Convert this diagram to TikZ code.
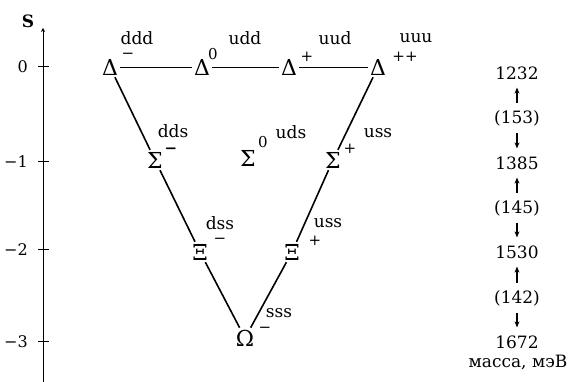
\documentclass[tikz,border=0pt]{standalone}
\usepackage{fontspec}
\setmainfont{DejaVu Serif}
\usetikzlibrary{positioning,arrows.meta}
\tikzset{
  hadron/.style ={inner sep=2pt, font=\fontsize{22}{22}\selectfont},
  charge/.style ={inner sep=0pt, font=\fontsize{15}{15}\selectfont},
  quark/.style  ={inner sep=0pt, font=\fontsize{17}{17}\selectfont},
  axlabel/.style={inner sep=0pt, font=\fontsize{16}{16}\selectfont},
  mass/.style   ={inner sep=2pt, font=\fontsize{17}{17}\selectfont},
  lineh/.style  ={line width=0.8pt},
  lined/.style  ={line width=1.6pt},
  axis/.style   ={line width=1pt},
  ar/.style     ={-{Stealth[length=6pt,width=5pt]}, line width=1.4pt,
                  shorten >=6pt, shorten <=5pt}
}

\begin{document}
\begin{tikzpicture}[x=1pt, y=-1pt]
\useasboundingbox (0,0) rectangle (574,382);

\coordinate (top) at (43,28);
\coordinate (bot) at (43,382);
\draw[axis, -{Stealth[length=4pt,width=4pt]}] (bot) -- (top);
\node[axlabel, font=\fontsize{17}{17}\selectfont\bfseries] (axs) at (28,21) {S};
\foreach \n/\y/\t in {0/67/0, 1/162/−1, 2/250/−2, 3/342/−3}{
  \coordinate (t\n) at (43,\y);
  \draw[axis] ([xshift=-5pt]t\n) -- ([xshift=6pt]t\n);
  \node[axlabel, left=15pt of t\n] (ax\n) {\t};
}

\node[hadron] (dm)  at (110,67)  {Δ};
\node[hadron] (d0)  at (202,67)  {Δ};
\node[hadron] (dp)  at (289,67)  {Δ};
\node[hadron] (dpp) at (378,67)  {Δ};
\node[hadron] (sm)  at (155,160) {Σ};
\node[hadron] (s0)  at (248,158) {Σ};
\node[hadron] (sp)  at (333,160) {Σ};
\node[hadron] (xm)  at (200,252) {Ξ};
\node[hadron] (xp)  at (292,252) {Ξ};
\node[hadron] (om)  at (245,338) {Ω};

\node[charge] (dmc)  at (128,56)  {−};
\node[charge] (d0c)  at (213,54)  {0};
\node[charge] (dpc)  at (307,57)  {+};
\node[charge] (dppc) at (405,57)  {++};
\node[charge] (smc)  at (171,151) {\textbf{−}};
\node[charge] (s0c)  at (263,142) {0};
\node[charge] (spc)  at (350,149) {+};
\node[charge] (xmc)  at (220,241) {−};
\node[charge] (xpc)  at (315,241) {+};
\node[charge] (omc)  at (265,330) {−};

\node[quark] (qdm)  at (137,38)  {ddd};
\node[quark] (qd0)  at (245,38)  {udd};
\node[quark] (qdp)  at (335,38)  {uud};
\node[quark] (qdpp) at (416,38)  {uuu};
\node[quark] (qsm)  at (173,131) {dds};
\node[quark] (qs0)  at (291,132) {uds};
\node[quark] (qsp)  at (378,133) {uss};
\node[quark] (qxm)  at (220,223) {dss};
\node[quark] (qxp)  at (328,223) {uss};
\node[quark] (qom)  at (279,313) {sss};

\draw[lineh] (dm) -- (d0);
\draw[lineh] (d0) -- (dp);
\draw[lineh] (dp) -- (dpp);
\draw[lined] (dm) -- (sm);
\draw[lined] (sm) -- (xm);
\draw[lined] (xm) -- (om);
\draw[lined] (dpp) -- (sp);
\draw[lined] (sp) -- (xp);
\draw[lined] (xp) -- (om);

\node[mass] (m1) at (517,73)  {1232};
\node[mass] (g1) at (517,118) {(153)};
\node[mass] (m2) at (517,163) {1385};
\node[mass] (g2) at (517,208) {(145)};
\node[mass] (m3) at (517,252) {1530};
\node[mass] (g3) at (517,298) {(142)};
\node[mass] (m4) at (517,342) {1672};
\node[mass] (unit) at (518,362) {масса, мэВ};

\draw[ar] (g1) -- (m1);
\draw[ar] (g1) -- (m2);
\draw[ar] (g2) -- (m2);
\draw[ar] (g2) -- (m3);
\draw[ar] (g3) -- (m3);
\draw[ar] (g3) -- (m4);
\end{tikzpicture}
\end{document}
